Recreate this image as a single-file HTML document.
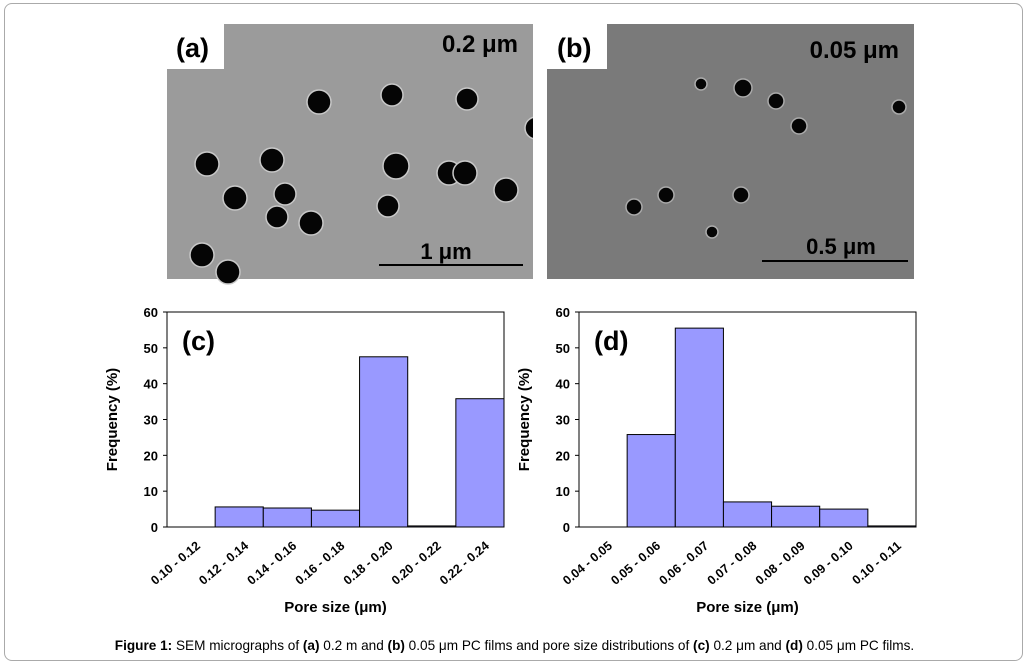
<!DOCTYPE html>
<html><head><meta charset="utf-8"><style>
body{margin:0;background:#fff;width:1029px;height:664px;overflow:hidden;font-family:"Liberation Sans",Arial,sans-serif}
#frame{position:absolute;left:4px;top:3px;width:1017px;height:656px;border:1px solid #aaa;border-radius:8px}
.cap{position:absolute;left:0;width:1029px;top:638px;text-align:center;font-size:13.6px;color:#000}
</style></head><body>
<div id="frame"></div>
<svg width="1029" height="664" style="position:absolute;left:0;top:0">
<g>
<rect x="167" y="24" width="366" height="255" fill="#9b9b9b"/>
<g fill="#050505" stroke="#c8c8c8" stroke-width="1.5">
<circle cx="319" cy="102" r="12"/><circle cx="392" cy="95" r="11"/><circle cx="467" cy="99" r="11"/><circle cx="536" cy="128" r="11"/>
<circle cx="207" cy="164" r="12"/><circle cx="272" cy="160" r="12"/><circle cx="396" cy="166" r="13"/><circle cx="449" cy="173" r="12"/><circle cx="465" cy="173" r="12"/>
<circle cx="506" cy="190" r="12"/><circle cx="235" cy="198" r="12"/><circle cx="285" cy="194" r="11"/><circle cx="277" cy="217" r="11"/>
<circle cx="311" cy="223" r="12"/><circle cx="388" cy="206" r="11"/><circle cx="202" cy="255" r="12"/><circle cx="228" cy="272" r="12"/>
</g>
<rect x="533" y="24" width="14" height="256" fill="#fff"/>
<rect x="167" y="24" width="57" height="45" fill="#fff"/>
<text x="176" y="57" font-size="27" font-weight="bold">(a)</text>
<text x="518" y="52" font-size="24" font-weight="bold" text-anchor="end">0.2 μm</text>
<line x1="379" y1="265" x2="523" y2="265" stroke="#000" stroke-width="2"/>
<text x="446" y="259" font-size="22" font-weight="bold" text-anchor="middle">1 μm</text>
</g>
<g>
<rect x="547" y="24" width="367" height="255" fill="#7a7a7a"/>
<g fill="#050505" stroke="#aaa" stroke-width="1.5">
<circle cx="701" cy="84" r="6"/><circle cx="743" cy="88" r="9"/><circle cx="776" cy="101" r="8"/><circle cx="799" cy="126" r="8"/><circle cx="899" cy="107" r="7"/>
<circle cx="634" cy="207" r="8"/><circle cx="666" cy="195" r="8"/><circle cx="741" cy="195" r="8"/><circle cx="712" cy="232" r="6"/>
</g>
<rect x="547" y="24" width="60" height="45" fill="#fff"/>
<text x="557" y="57" font-size="27" font-weight="bold">(b)</text>
<text x="899" y="58" font-size="24" font-weight="bold" text-anchor="end">0.05 μm</text>
<line x1="762" y1="261" x2="908" y2="261" stroke="#000" stroke-width="2"/>
<text x="841" y="254" font-size="22" font-weight="bold" text-anchor="middle">0.5 μm</text>
</g>
<g id="chartC"></g>
<g id="chartD"></g>
</svg>
<div class="cap"><b>Figure 1:</b> SEM micrographs of <b>(a)</b> 0.2 m and <b>(b)</b> 0.05 μm PC films and pore size distributions of <b>(c)</b> 0.2 μm and <b>(d)</b> 0.05 μm PC films.</div>
<script>
const catsC=["0.10 - 0.12","0.12 - 0.14","0.14 - 0.16","0.16 - 0.18","0.18 - 0.20","0.20 - 0.22","0.22 - 0.24"];
const valsC=[0,5.6,5.3,4.7,47.5,0.3,35.8];
const catsD=["0.04 - 0.05","0.05 - 0.06","0.06 - 0.07","0.07 - 0.08","0.08 - 0.09","0.09 - 0.10","0.10 - 0.11"];
const valsD=[0,25.8,55.5,7,5.8,5,0.3];
const yTicks=[0,10,20,30,40,50,60];
const NS="http://www.w3.org/2000/svg";
function mk(tag,attrs,parent){const e=document.createElementNS(NS,tag);for(const k in attrs)e.setAttribute(k,attrs[k]);parent.appendChild(e);return e;}
function draw(g,x0,x1,cats,vals,letter){
  const y0=527,yt=312,ymax=60;
  const ys=v=>y0-(v/ymax)*(y0-yt);
  const bw=(x1-x0)/cats.length;
  const xs=i=>x0+i*bw;
  const frame=mk('rect',{x:x0,y:yt,width:x1-x0,height:y0-yt,fill:'#fff',stroke:'#000','stroke-width':1},g);
  
  
  yTicks.forEach(t=>{
    const tl=mk('line',{x1:x0-4,x2:x0,y1:ys(t),y2:ys(t),stroke:'#000'},g);
    
    
    const tx=mk('text',{x:x0-9,y:ys(t)+5,'font-size':13,'font-weight':'bold','text-anchor':'end'},g);
    tx.textContent=t;
    
    
  });
  vals.forEach((v,i)=>{
    const r=mk('rect',{x:xs(i),y:ys(v),width:bw,height:y0-ys(v),fill:'#9999ff',stroke:'#000','stroke-width':1},g);
    
    
    const cx=xs(i)+bw/2+10, cy=y0+20;
    const t=mk('text',{x:cx,y:cy,'font-size':12.5,'font-weight':'bold','text-anchor':'end',transform:`rotate(-40 ${cx} ${cy})`},g);
    t.textContent=cats[i];
    
    
  });
  const lb=mk('text',{x:x0+15,y:yt+38,'font-size':27,'font-weight':'bold'},g);
  lb.textContent='('+letter+')';
  
  
  const xt=mk('text',{x:(x0+x1)/2,y:612,'font-size':15,'font-weight':'bold','text-anchor':'middle'},g);
  xt.textContent='Pore size (μm)';
  
  
  const yx=x0-50, yy=(y0+yt)/2;
  const ytt=mk('text',{x:yx,y:yy,'font-size':15,'font-weight':'bold','text-anchor':'middle',transform:`rotate(-90 ${yx} ${yy})`},g);
  ytt.textContent='Frequency (%)';
  
  
}
draw(document.getElementById('chartC'),167,504,catsC,valsC,'c');
draw(document.getElementById('chartD'),579,916,catsD,valsD,'d');
</script>
</body></html>
